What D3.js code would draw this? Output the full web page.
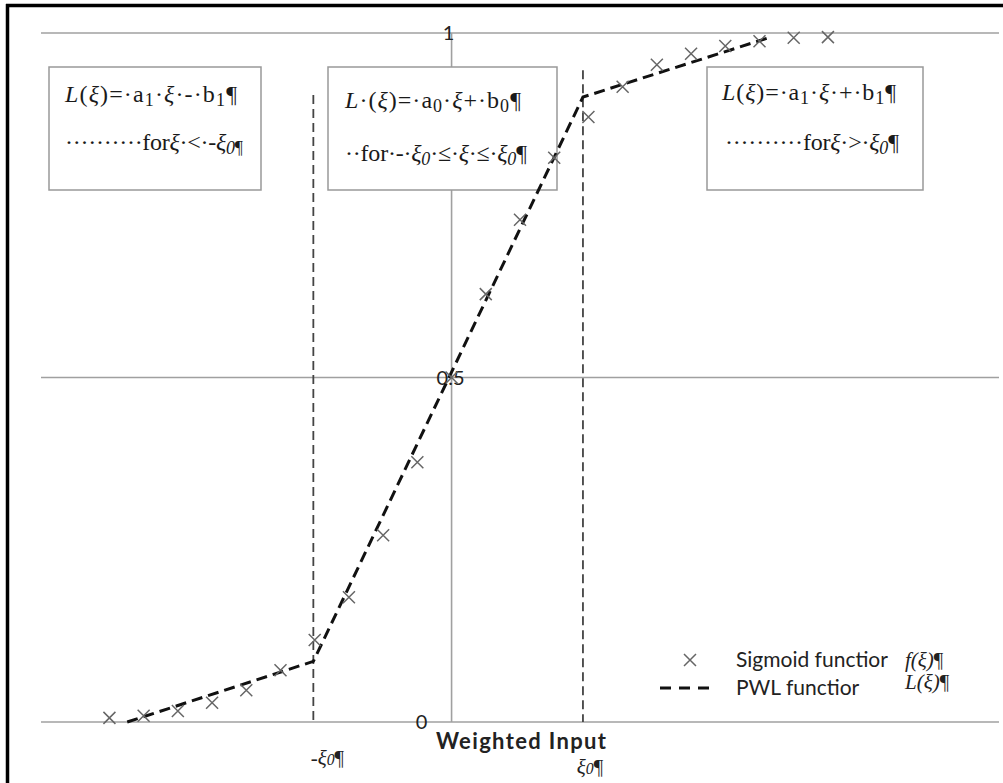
<!DOCTYPE html>
<html>
<head>
<meta charset="utf-8">
<script src="https://cdn.jsdelivr.net/npm/d3@7"></script>
<style>
  body { margin: 0; background: #fff; }
  svg { display: block; }
  .grid { stroke: #a0a0a0; stroke-width: 1.6; }
  .tick-label { font-family: Lato, 'Liberation Sans', sans-serif; font-size: 20px; fill: #222; }
  .box rect { fill: #fff; stroke: #999; stroke-width: 1.5; }
  .box text { font-family: 'Liberation Serif', serif; font-size: 24px; fill: #1a1a1a; }
  .legend-text { font-family: Lato, 'Liberation Sans', sans-serif; font-size: 21px; fill: #222; }
  .serif { font-family: 'Liberation Serif', serif; }
</style>
</head>
<body>
<div id="chart"></div>
<script>
// sigmoid samples
const sigX = [-5, -4.5, -4, -3.5, -3, -2.5, -2, -1.5, -1, -0.5, 0, 0.5, 1, 1.5, 2, 2.5, 3, 3.5, 4, 4.5, 5, 5.5];
const sigY = [0.006, 0.009, 0.016, 0.028, 0.046, 0.075, 0.119, 0.181, 0.271, 0.377, 0.5, 0.621, 0.729, 0.819, 0.878, 0.922, 0.954, 0.970, 0.981, 0.988, 0.993, 0.994];

// piecewise linear approximation vertices
const pwlX = [-4.74, -2.02, 1.92, 4.63];
const pwlY = [0, 0.088, 0.907, 0.993];

const yTicks = [0, 0.5, 1];
const yTickLabels = ['0', '0.5', '1'];

const xiBounds = [-2.02, 1.92];
const xiTops = [0.91, 0.946];

const xAxisTitle = 'Weighted Input';
const legendNames = ['Sigmoid functior', 'PWL functior'];

const width = 1003;
const height = 783;

const xScale = d3.scaleLinear().domain([-6, 8]).range([41, 999]);
const yScale = d3.scaleLinear().domain([0, 1]).range([722, 33]);

const svg = d3.select('#chart')
    .append('svg')
        .attr('width', width)
        .attr('height', height);

// frame (left + top edges only)
svg.append('line')
    .attr('x1', 7.5).attr('x2', 7.5).attr('y1', 4).attr('y2', height)
    .attr('stroke', '#000').attr('stroke-width', 3.5);
svg.append('line')
    .attr('x1', 6).attr('x2', width).attr('y1', 5.5).attr('y2', 5.5)
    .attr('stroke', '#000').attr('stroke-width', 3.5);

// horizontal gridlines
svg.selectAll('.grid-h')
    .data(yTicks)
    .join('line')
        .attr('class', 'grid')
        .attr('x1', xScale(-6))
        .attr('x2', xScale(8))
        .attr('y1', d => yScale(d))
        .attr('y2', d => yScale(d));

// vertical axis at zero
svg.append('line')
    .attr('class', 'grid')
    .attr('x1', xScale(0)).attr('x2', xScale(0))
    .attr('y1', yScale(1)).attr('y2', yScale(0));

// +/- xi0 dashed bounds
svg.selectAll('.bound')
    .data(xiBounds)
    .join('line')
        .attr('class', 'bound')
        .attr('x1', d => xScale(d))
        .attr('x2', d => xScale(d))
        .attr('y1', (d, i) => yScale(xiTops[i]))
        .attr('y2', yScale(0))
        .attr('stroke', '#444')
        .attr('stroke-width', 1.8)
        .attr('stroke-dasharray', '9 5');

// y tick labels (placed like the original, overlapping the axis)
const tickDx = [-30, -1, -3];
svg.selectAll('.tick-label')
    .data(yTicks)
    .join('text')
        .attr('class', 'tick-label')
        .attr('x', (d, i) => xScale(0) + tickDx[i])
        .attr('y', d => yScale(d))
        .attr('dy', '0.35em')
        .attr('text-anchor', 'middle')
        .text((d, i) => yTickLabels[i]);

// annotation boxes
const boxes = [
    { x: 49, y: 67, w: 212, h: 123, lines: [
        { x: 65, y: 102, len: 172, segs: [['L', 'i'], ['('], ['ξ', 'i'], [')=·a'], ['1', 's'], ['·'], ['ξ', 'i'], ['·-·b'], ['1', 's'], ['¶']] },
        { x: 65, y: 150, len: 178, segs: [['··········for'], ['ξ', 'i'], ['·<·-'], ['ξ', 'i'], ['0', 'si'], ['¶', 's']] }
    ] },
    { x: 328, y: 67, w: 229, h: 123, lines: [
        { x: 345, y: 108, len: 176, segs: [['L', 'i'], ['·('], ['ξ', 'i'], [')=·a'], ['0', 's'], ['·'], ['ξ', 'i'], ['+·b'], ['0', 's'], ['¶']] },
        { x: 345, y: 161, len: 182, segs: [['··for·-·'], ['ξ', 'i'], ['0', 'si'], ['·≤·'], ['ξ', 'i'], ['·≤·'], ['ξ', 'i'], ['0', 'si'], ['¶']] }
    ] },
    { x: 707, y: 67, w: 216, h: 123, lines: [
        { x: 722, y: 100, len: 174, segs: [['L', 'i'], ['('], ['ξ', 'i'], [')=·a'], ['1', 's'], ['·'], ['ξ', 'i'], ['·+·b'], ['1', 's'], ['¶']] },
        { x: 725, y: 150, len: 174, segs: [['··········for'], ['ξ', 'i'], ['·>·'], ['ξ', 'i'], ['0', 'si'], ['¶']] }
    ] }
];

const addSegs = (textSel, segs) => {
    let shifted = false;
    segs.forEach(s => {
        const style = s[1] || '';
        const sub = style.includes('s');
        const t = textSel.append('tspan').text(s[0]);
        if (style.includes('i')) t.attr('font-style', 'italic');
        if (sub && !shifted) { t.attr('dy', 4).attr('font-size', '0.75em'); shifted = true; }
        else if (sub) t.attr('font-size', '0.75em');
        else if (shifted) { t.attr('dy', -4); shifted = false; }
    });
};

const boxG = svg.selectAll('.box')
    .data(boxes)
    .join('g')
        .attr('class', 'box');

boxG.append('rect')
    .attr('x', d => d.x)
    .attr('y', d => d.y)
    .attr('width', d => d.w)
    .attr('height', d => d.h);

boxG.each(function(d) {
    const g = d3.select(this);
    d.lines.forEach(l => {
        const t = g.append('text')
            .attr('x', l.x).attr('y', l.y)
            .attr('textLength', l.len)
            .attr('lengthAdjust', 'spacing');
        addSegs(t, l.segs);
    });
});

// PWL dashed line
const line = d3.line()
    .x(d => xScale(d[0]))
    .y(d => yScale(d[1]));

svg.append('path')
    .attr('d', line(pwlX.map((x, i) => [x, pwlY[i]])))
    .attr('fill', 'none')
    .attr('stroke', '#111')
    .attr('stroke-width', 3)
    .attr('stroke-dasharray', '11 6');

// sigmoid x markers
const cross = 'M-6,-6L6,6M-6,6L6,-6';
svg.selectAll('.point')
    .data(sigX)
    .join('path')
        .attr('class', 'point')
        .attr('d', cross)
        .attr('transform', (d, i) => `translate(${xScale(d)},${yScale(sigY[i])})`)
        .attr('fill', 'none')
        .attr('stroke', '#666')
        .attr('stroke-width', 1.5);

// x axis title and xi0 labels
svg.append('text')
    .attr('x', 521)
    .attr('y', 749)
    .attr('text-anchor', 'middle')
    .attr('font-family', "Lato, 'Liberation Sans', sans-serif")
    .attr('font-weight', 'bold')
    .attr('font-size', 22)
    .attr('textLength', 170)
    .attr('lengthAdjust', 'spacing')
    .attr('fill', '#222')
    .text(xAxisTitle);

const xiLabels = svg.selectAll('.xi-label')
    .data(xiBounds)
    .join('text')
        .attr('class', 'xi-label serif')
        .attr('x', d => xScale(d) + (d < 0 ? 14 : 7))
        .attr('y', d => d < 0 ? 765 : 774)
        .attr('text-anchor', 'middle')
        .attr('font-size', 21)
        .attr('fill', '#222');
xiLabels.each(function(d) {
    const t = d3.select(this);
    if (d < 0) t.append('tspan').text('-');
    t.append('tspan').attr('font-style', 'italic').text('ξ');
    t.append('tspan').attr('font-style', 'italic').attr('font-size', '0.75em').text('0');
    t.append('tspan').text('¶');
});

// legend
svg.append('path')
    .attr('d', cross)
    .attr('transform', 'translate(690,660)')
    .attr('fill', 'none')
    .attr('stroke', '#666')
    .attr('stroke-width', 1.5);

svg.append('line')
    .attr('x1', 660).attr('x2', 714)
    .attr('y1', 688).attr('y2', 688)
    .attr('stroke', '#111')
    .attr('stroke-width', 3)
    .attr('stroke-dasharray', '11 8');

svg.selectAll('.legend-text')
    .data(legendNames)
    .join('text')
        .attr('class', 'legend-text')
        .attr('x', 736)
        .attr('y', (d, i) => 667 + i * 28)
        .text(d => d);

const fLab = svg.append('text')
    .attr('class', 'serif')
    .attr('x', 905).attr('y', 667)
    .attr('font-size', 21)
    .attr('fill', '#222');
fLab.append('tspan').attr('font-style', 'italic').text('f(ξ)');
fLab.append('tspan').text('¶');

const lLab = svg.append('text')
    .attr('class', 'serif')
    .attr('x', 905).attr('y', 689)
    .attr('font-size', 21)
    .attr('fill', '#222');
lLab.append('tspan').attr('font-style', 'italic').text('L(ξ)');
lLab.append('tspan').text('¶');
</script>
</body>
</html>
